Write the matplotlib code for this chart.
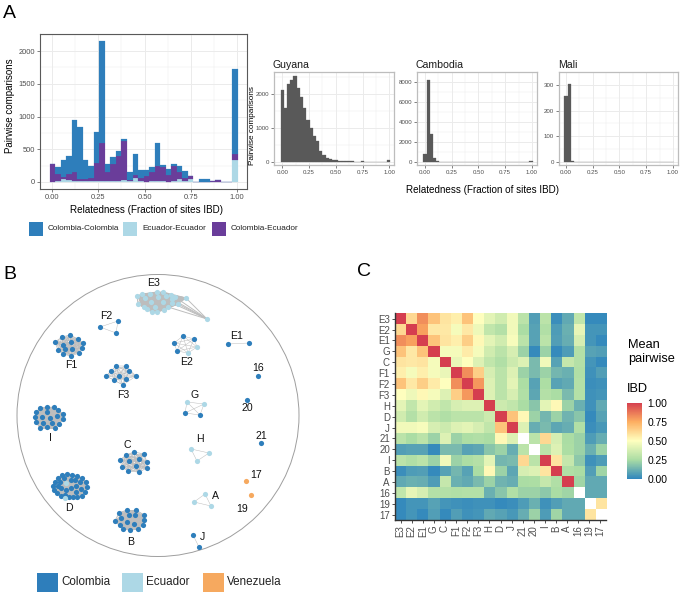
#!/usr/bin/env python3
# -*- coding: utf-8 -*-

"""
plot.py

Multi-panel figure: IBD relatedness histograms (A), network of
clonal components (B), mean pairwise IBD heatmap (C).
"""

from itertools import combinations

import numpy as np
import matplotlib
matplotlib.use("Agg")
import matplotlib.pyplot as plt
from matplotlib.collections import LineCollection
from matplotlib.colors import LinearSegmentedColormap
from matplotlib.patches import Circle, Rectangle

plt.rcParams["font.family"] = ["Liberation Sans", "DejaVu Sans"]

W, H = 682, 594
BIN_WIDTH = 0.03

# panel A, main histogram (33 bins of 0.03 + the one at 0.99)
ecu_ecu = [5, 15, 40, 35, 20, 15, 15, 10, 15, 15, 10, 10, 20, 30, 20, 65, 10,
           5, 10, 15, 10, 5, 10, 45, 20, 50, 0, 0, 0, 0, 0, 0, 0, 330]
col_ecu = [265, 105, 35, 85, 130, 30, 25, 55, 275, 585, 140, 270, 375, 590, 10,
           40, 50, 85, 150, 235, 215, 100, 240, 100, 40, 40, 0, 0, 0, 15, 25, 0, 0, 90]
col_col = [10, 105, 255, 280, 800, 795, 290, 180, 470, 1550, 130, 100, 85, 30,
           120, 325, 125, 95, 65, 345, 30, 95, 20, 100, 105, 0, 0, 40, 40, 0, 0, 0, 0, 1310]

# panel A, small histograms
guyana = [2140, 1600, 2300, 2420, 2540, 2200, 1930, 1600, 1240, 1000, 750, 610,
          320, 200, 110, 80, 60, 50, 30, 20, 15, 10, 8, 5, 5, 15, 5, 5, 5, 5, 5, 5, 5, 60]
cambodia = [830, 8150, 2800, 340, 90, 30, 20, 10, 10, 5, 5, 5, 5, 5, 5, 5, 5,
            5, 5, 5, 5, 5, 5, 5, 5, 5, 5, 5, 5, 5, 5, 5, 5, 120]
mali = [258, 302, 5, 0, 0, 0, 0, 0, 0, 0, 0, 0, 0, 0, 0, 0, 0,
        0, 0, 0, 0, 0, 0, 0, 0, 0, 0, 0, 0, 0, 0, 0, 0, 1]

# panel B, node positions of each component (picture coordinates)
net_E3 = [(137, 296), (138, 304), (142, 294), (145, 298), (144, 307), (147, 309),
          (150, 294), (151, 302), (152, 312), (155, 307), (157, 292), (158, 297),
          (157, 312), (163, 292), (163, 302), (164, 310), (166, 296), (168, 307),
          (171, 295), (172, 299), (172, 303), (175, 297), (178, 304), (186, 298),
          (207, 319)]
net_E2_col = [(174, 343), (183, 336), (194, 339), (177, 351)]
net_E2_ecu = [(197, 347), (188, 353)]
net_E1 = [(228, 344), (249, 343)]
net_F1 = [(55, 342), (58, 350), (62, 337), (63, 345), (63, 354), (70, 335), (71, 342),
          (71, 356), (72, 349), (78, 339), (79, 353), (82, 348), (83, 343), (65, 349)]
net_F2 = [(100, 327), (118, 321), (116, 333)]
net_F3 = [(116, 366), (126, 366), (111, 371), (129, 371), (106, 376), (136, 376),
          (119, 376), (126, 379), (114, 380), (123, 385)]
net_I = [(35, 417), (36, 412), (40, 408), (47, 407), (54, 407), (58, 410), (63, 414),
         (63, 419), (59, 424), (55, 428), (47, 427), (40, 428), (36, 422), (43, 423),
         (42, 417), (47, 412), (50, 418), (52, 423), (57, 416)]
net_D_col = [(53, 486), (54, 490), (57, 493), (61, 496), (65, 495), (69, 497), (73, 497),
             (77, 497), (82, 496), (85, 492), (87, 487), (86, 482), (82, 478), (77, 476),
             (72, 475), (67, 474), (62, 475), (58, 478), (55, 482), (60, 482), (61, 488),
             (64, 478), (66, 490), (71, 480), (71, 488), (75, 480), (76, 486), (76, 492),
             (80, 482), (81, 489), (58, 486)]
net_D_ecu = [(65, 498), (66, 483)]
net_C = [(126, 455), (134, 452), (144, 454), (120, 460), (129, 461), (139, 459),
         (147, 462), (122, 467), (136, 466), (147, 468), (128, 471), (139, 472)]
net_B = [(119, 513), (127, 510), (136, 510), (144, 515), (115, 521), (121, 518),
         (129, 515), (135, 515), (127, 522), (134, 524), (144, 520), (120, 525),
         (123, 529), (130, 530), (138, 529), (143, 525)]
net_G_ecu = [(187, 402), (204, 404)]
net_G_col = [(185, 413), (200, 415)]
net_H = [(191, 449), (209, 453), (197, 461)]
net_A = [(205, 494), (194, 502), (211, 506)]
net_J = [(193, 535), (199, 547)]
net_16 = [(258, 376)]
net_20 = [(247, 400)]
net_21 = [(261, 443)]
net_17 = [(246, 481)]
net_19 = [(251, 495)]

net_labels = {
    "E3": (154, 283), "F2": (106, 316), "F1": (71, 365), "F3": (123, 395),
    "E2": (187, 362), "E1": (237, 336), "16": (258, 368), "20": (247, 408),
    "21": (261, 436), "G": (195, 395), "H": (200, 439), "17": (256, 475),
    "A": (215, 496), "19": (242, 509), "J": (202, 537), "I": (50, 438),
    "C": (127, 445), "D": (69, 508), "B": (131, 542),
}

# panel C
heat_labels = ["E3", "E2", "E1", "G", "C", "F1", "F2", "F3", "H", "D", "J",
               "21", "20", "I", "B", "A", "16", "19", "17"]
nan = np.nan
heat_values = [
    [1, .62, .82, .68, .58, .55, .68, .50, .42, .36, .46, .30, .07, .30, .02, .10, .32, .01, .01],
    [.62, 1, .78, .57, .57, .47, .57, .45, .32, .28, .46, .25, .08, .27, .06, .12, .43, .04, .04],
    [.82, .78, 1, .68, .58, .55, .65, .52, .42, .36, .48, .30, .08, .30, .07, .11, .38, .04, .01],
    [.68, .57, .68, 1, .47, .47, .56, .47, .36, .30, .38, .22, .01, .22, .01, .06, .28, .08, .07],
    [.58, .57, .58, .47, 1, .44, .50, .40, .32, .27, .35, .40, .15, .46, .08, .33, .28, .04, .01],
    [.55, .47, .55, .47, .44, 1, .82, .65, .38, .30, .40, .22, .15, .22, .14, .12, .27, .03, .07],
    [.68, .57, .65, .56, .50, .82, 1, .80, .40, .30, .42, .26, .08, .26, .08, .10, .28, .02, .03],
    [.50, .45, .52, .47, .40, .65, .80, 1, .40, .30, .38, .27, .09, .28, .25, .15, .28, .03, .04],
    [.42, .32, .42, .36, .32, .38, .40, .40, 1, .35, .32, .25, .18, .42, .52, .22, .12, .03, .10],
    [.36, .28, .36, .30, .27, .30, .30, .30, .35, 1, .68, .52, .22, .14, .22, .13, .18, .01, .08],
    [.46, .46, .48, .38, .35, .40, .42, .38, .32, .68, 1, .40, .11, .15, .09, .11, .27, .02, .05],
    [.30, .25, .30, .22, .40, .22, .26, .27, .25, .52, .40, nan, .30, .62, .38, .25, .22, .06, .11],
    [.07, .08, .08, .01, .15, .15, .08, .09, .18, .22, .11, .30, nan, .30, .40, .26, .22, .12, .22],
    [.30, .27, .30, .22, .46, .22, .26, .28, .42, .14, .15, .62, .30, 1, .58, .33, .19, .03, .06],
    [.02, .06, .07, .01, .08, .14, .08, .25, .52, .22, .09, .38, .40, .58, 1, .27, .25, .07, .23],
    [.10, .12, .11, .06, .33, .12, .10, .15, .22, .13, .11, .25, .26, .33, .27, 1, .23, .10, .10],
    [.32, .43, .38, .28, .28, .27, .28, .28, .12, .18, .27, .22, .22, .19, .25, .23, nan, .10, .10],
    [.01, .04, .04, .08, .04, .03, .02, .03, .03, .01, .02, .06, .12, .03, .07, .10, .10, nan, .58],
    [.01, .04, .01, .07, .01, .07, .03, .04, .10, .08, .05, .11, .22, .06, .23, .10, .10, .58, nan],
]

BLUE = "#2E7EBB"
LIGHT = "#ADD8E6"
PURPLE = "#6A3D9A"
ORANGE = "#F6A95F"
TICK_COL = "#4D4D4D"
GRID_COL = "#EBEBEB"


def px_axes(fig, left, top, right, bottom):
    """Axes placed by picture pixels (origin top-left)."""
    return fig.add_axes([left / W, 1 - bottom / H, (right - left) / W, (bottom - top) / H])


def style_hist(ax, xlim, ylim, yticks, tick_size, spine_col, spine_lw):
    ax.set_xlim(*xlim)
    ax.set_ylim(*ylim)
    ax.set_xticks([0, 0.25, 0.5, 0.75, 1.0])
    ax.set_xticklabels(["0.00", "0.25", "0.50", "0.75", "1.00"])
    ax.set_yticks(yticks)
    step = yticks[1] - yticks[0]
    ax.set_xticks([0.125, 0.375, 0.625, 0.875], minor=True)
    ax.set_yticks([t + step / 2 for t in yticks], minor=True)
    ax.grid(True, which="major", color=GRID_COL, lw=0.7)
    ax.grid(True, which="minor", color=GRID_COL, lw=0.35)
    ax.set_axisbelow(True)
    ax.tick_params(which="minor", length=0)
    ax.tick_params(which="major", length=2, width=0.5, color=TICK_COL,
                   labelcolor=TICK_COL, labelsize=tick_size, pad=1.5)
    for s in ax.spines.values():
        s.set_color(spine_col)
        s.set_linewidth(spine_lw)


def draw_panel_a(fig):
    centers = np.arange(len(col_col)) * BIN_WIDTH

    ax = px_axes(fig, 40, 34, 247, 189)
    ee = np.array(ecu_ecu)
    ce = np.array(col_ecu)
    cc = np.array(col_col)
    ax.bar(centers, ee, BIN_WIDTH, color=LIGHT, ec=LIGHT, lw=0.15)
    ax.bar(centers, ce, BIN_WIDTH, bottom=ee, color=PURPLE, ec=PURPLE, lw=0.15)
    ax.bar(centers, cc, BIN_WIDTH, bottom=ee + ce, color=BLUE, ec=BLUE, lw=0.15)
    style_hist(ax, (-0.067, 1.056), (-107, 2260), [0, 500, 1000, 1500, 2000], 5.4, "#595959", 0.8)

    small = [
        ("Guyana", guyana, 274, 394, (-0.077, 1.044), (-98, 2660), [0, 1000, 2000]),
        ("Cambodia", cambodia, 417, 537, (-0.075, 1.047), (-313, 8500), [0, 2000, 4000, 6000, 8000]),
        ("Mali", mali, 559, 678, (-0.065, 1.047), (-11.6, 315), [0, 100, 200, 300]),
    ]
    for title, vals, left, right, xlim, ylim, yticks in small:
        ax = px_axes(fig, left, 72, right, 165)
        ax.bar(centers, vals, BIN_WIDTH, color="#595959", ec="#595959", lw=0.2)
        style_hist(ax, xlim, ylim, yticks, 4.4, "#BDBDBD", 0.9)
        ax.set_title(title, fontsize=7.6, loc="left", pad=3, color="#1A1A1A", x=-0.01)


def draw_network(ov, nodes_by_colour, max_edge=42, lw=0.35):
    """Pairs of a component get an edge (outliers only to close nodes), nodes go on top."""
    pts = [p for nodes, _ in nodes_by_colour for p in nodes]
    segs = []
    for a, b in combinations(pts, 2):
        if np.hypot(a[0] - b[0], a[1] - b[1]) < max_edge:
            segs.append([a, b])
    if segs:
        ov.add_collection(LineCollection(segs, colors="#BDBDBD", linewidths=lw, zorder=2))
    for nodes, col in nodes_by_colour:
        ov.scatter([p[0] for p in nodes], [p[1] for p in nodes], s=14, color=col,
                   linewidths=0, zorder=3)


def draw_panel_b(ov):
    ov.add_patch(Circle((158, 415.5), 141, fill=False, ec="#9E9E9E", lw=0.7, zorder=1))

    draw_network(ov, [(net_E3, LIGHT)], lw=0.7)
    draw_network(ov, [(net_E2_col, BLUE), (net_E2_ecu, LIGHT)])
    draw_network(ov, [(net_E1, BLUE)])
    draw_network(ov, [(net_F1, BLUE)], lw=0.5)
    draw_network(ov, [(net_F2, BLUE)])
    draw_network(ov, [(net_F3, BLUE)])
    draw_network(ov, [(net_I, BLUE)], lw=0.7)
    draw_network(ov, [(net_D_col, BLUE), (net_D_ecu, LIGHT)], lw=0.7)
    draw_network(ov, [(net_C, BLUE)], lw=0.5)
    draw_network(ov, [(net_B, BLUE)], lw=0.7)
    draw_network(ov, [(net_G_ecu, LIGHT), (net_G_col, BLUE)])
    draw_network(ov, [(net_H, LIGHT)])
    draw_network(ov, [(net_A, LIGHT)])
    draw_network(ov, [(net_J, BLUE)])
    for single, col in [(net_16, BLUE), (net_20, BLUE), (net_21, BLUE),
                        (net_17, ORANGE), (net_19, ORANGE)]:
        draw_network(ov, [(single, col)])

    for name, (x, y) in net_labels.items():
        ov.text(x, y, name, fontsize=7.6, ha="center", va="center", color="#111111", zorder=4)


def draw_panel_c(fig):
    cmap = LinearSegmentedColormap.from_list(
        "ibd", ["#3288BD", "#ABDDA4", "#FFFFBF", "#FDAE61", "#D53E4F"])
    cmap.set_bad("white")

    ax = px_axes(fig, 395, 313.3, 606, 520)
    im = ax.imshow(np.array(heat_values, dtype=float), cmap=cmap, vmin=0, vmax=1,
                   aspect="auto", interpolation="nearest")
    n = len(heat_labels)
    ax.set_xticks(range(n))
    ax.set_yticks(range(n))
    ax.set_xticklabels(heat_labels, rotation=90)
    ax.set_yticklabels(heat_labels)
    ax.tick_params(length=2.2, width=0.6, color="#333333", labelcolor=TICK_COL,
                   labelsize=7, pad=1.5)
    ax.spines["top"].set_visible(False)
    ax.spines["right"].set_visible(False)
    ax.spines["left"].set_linewidth(1.0)
    ax.spines["bottom"].set_linewidth(1.0)
    ax.spines["left"].set_color("#333333")
    ax.spines["bottom"].set_color("#333333")

    cax = px_axes(fig, 627, 402.7, 642, 478.7)
    cb = fig.colorbar(im, cax=cax, ticks=[0, 0.25, 0.5, 0.75, 1.0])
    cb.ax.set_yticklabels(["0.00", "0.25", "0.50", "0.75", "1.00"])
    cb.ax.tick_params(length=0, labelsize=7.4, pad=4)
    cb.outline.set_visible(False)


def draw_overlay_text(ov):
    # panel letters
    ov.text(9, 13, "A", fontsize=14, ha="center", va="center")
    ov.text(9.5, 274.5, "B", fontsize=14, ha="center", va="center")
    ov.text(364, 272, "C", fontsize=14, ha="center", va="center")

    # panel A titles
    ov.text(10, 106, "Pairwise comparisons", fontsize=7, rotation=90, ha="center", va="center")
    ov.text(147, 210, "Relatedness (Fraction of sites IBD)", fontsize=7.1, ha="center", va="center")
    ov.text(252, 126, "Pairwise comparisons", fontsize=5.9, rotation=90, ha="center", va="center")
    ov.text(482, 190, "Relatedness (Fraction of sites IBD)", fontsize=7.1, ha="center", va="center")

    # panel A legend
    for x, col, name in [(29, BLUE, "Colombia-Colombia"), (123, LIGHT, "Ecuador-Ecuador"),
                         (212, PURPLE, "Colombia-Ecuador")]:
        ov.add_patch(Rectangle((x, 222), 14, 14, fc=col, ec="none"))
        ov.text(x + 19, 229, name, fontsize=5.9, ha="left", va="center", color="#222222")

    # panel B legend
    for x, col, name in [(37, BLUE, "Colombia"), (122, LIGHT, "Ecuador"), (203, ORANGE, "Venezuela")]:
        ov.add_patch(Rectangle((x, 573), 21, 19, fc=col, ec="none"))
        ov.text(x + 24, 582, name, fontsize=8.4, ha="left", va="center", color="#222222")

    # panel C legend titles
    ov.text(628, 345, "Mean", fontsize=9.2, ha="left", va="center")
    ov.text(628, 359, "pairwise", fontsize=9.2, ha="left", va="center")
    ov.text(627, 389, "IBD", fontsize=9.2, ha="left", va="center")


def main():
    fig = plt.figure(figsize=(W / 100, H / 100), dpi=100)

    # transparent overlay in picture pixels for network and free text
    ov = fig.add_axes([0, 0, 1, 1], zorder=5)
    ov.set_xlim(0, W)
    ov.set_ylim(H, 0)
    ov.axis("off")
    ov.patch.set_alpha(0)

    draw_panel_a(fig)
    draw_panel_b(ov)
    draw_panel_c(fig)
    draw_overlay_text(ov)

    fig.savefig("out.png", dpi=100)
    print("[OK] Wrote: out.png")


if __name__ == "__main__":
    main()
